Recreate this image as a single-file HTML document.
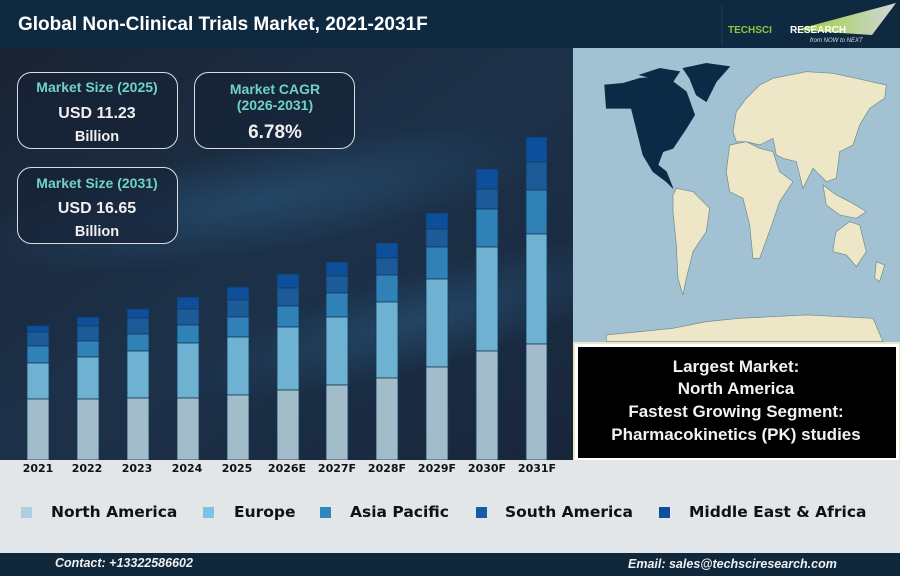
<!DOCTYPE html>
<html><head><meta charset="utf-8"><style>
html,body{margin:0;padding:0;width:900px;height:576px;overflow:hidden;background:#1a2536}
svg{display:block}
</style></head><body>
<svg width="900" height="576" viewBox="0 0 900 576" xmlns="http://www.w3.org/2000/svg">
<defs>
<linearGradient id="bg" x1="0" y1="0" x2="1" y2="1">
<stop offset="0" stop-color="#1a2334"/><stop offset="0.5" stop-color="#1c3149"/><stop offset="1" stop-color="#18263a"/>
</linearGradient>
<radialGradient id="sw1" cx="0.5" cy="0.5" r="0.5">
<stop offset="0" stop-color="#2a5a80" stop-opacity="0.55"/><stop offset="1" stop-color="#2a5a80" stop-opacity="0"/>
</radialGradient>
<linearGradient id="tri" x1="0" y1="0" x2="1" y2="0">
<stop offset="0" stop-color="#9acd32"/><stop offset="1" stop-color="#d0d8d8"/>
</linearGradient>
</defs>
<rect x="0" y="48" width="573" height="412" fill="url(#bg)"/>
<ellipse cx="260" cy="200" rx="300" ry="55" fill="url(#sw1)" transform="rotate(-10 260 200)"/>
<ellipse cx="420" cy="320" rx="250" ry="50" fill="url(#sw1)" transform="rotate(-15 420 320)"/>
<!-- header -->
<rect x="0" y="0" width="900" height="48" fill="#0f2a40"/>
<text x="18" y="30" font-family="Liberation Sans, sans-serif" font-weight="bold" font-size="19" fill="#fff">Global Non-Clinical Trials Market, 2021-2031F</text>
<line x1="722" y1="5" x2="722" y2="45" stroke="#1f3a52" stroke-width="1"/>
<polygon points="795,30 896,3 872,35" fill="url(#tri)"/>
<text x="728" y="33" font-family="Liberation Sans, sans-serif" font-weight="bold" font-size="10" fill="#8cc63f">TECHSCI</text>
<text x="790" y="33" font-family="Liberation Sans, sans-serif" font-weight="bold" font-size="10" fill="#fff">RESEARCH</text>
<text x="810" y="42" font-family="Liberation Sans, sans-serif" font-style="italic" font-size="6" fill="#ddd">from NOW to NEXT</text>

<!-- KPI boxes -->
<g font-family="Liberation Sans, sans-serif" font-weight="bold" text-anchor="middle">
<rect x="17.5" y="72.5" width="160" height="76" rx="14" fill="#162235" fill-opacity="0.6" stroke="#d8dde2" stroke-width="1"/>
<text x="97" y="92" font-size="14" fill="#6fd3c4">Market Size (2025)</text>
<text x="97" y="118" font-size="16" fill="#f0f0f0">USD 11.23</text>
<text x="97" y="141" font-size="14.5" fill="#f0f0f0">Billion</text>
<rect x="194.5" y="72.5" width="160" height="76" rx="14" fill="#162235" fill-opacity="0.6" stroke="#d8dde2" stroke-width="1"/>
<text x="275" y="94" font-size="14" fill="#6fd3c4">Market CAGR</text>
<text x="275" y="110" font-size="14" fill="#6fd3c4">(2026-2031)</text>
<text x="275" y="138" font-size="19" fill="#f0f0f0">6.78%</text>
<rect x="17.5" y="167.5" width="160" height="76" rx="14" fill="#162235" fill-opacity="0.6" stroke="#d8dde2" stroke-width="1"/>
<text x="97" y="188" font-size="14" fill="#6fd3c4">Market Size (2031)</text>
<text x="97" y="213" font-size="16" fill="#f0f0f0">USD 16.65</text>
<text x="97" y="236" font-size="14.5" fill="#f0f0f0">Billion</text>
</g>

<!-- bars -->
<g stroke="#123a5c" stroke-width="0.8">
<g><rect x="27" y="325.7" width="22" height="6.3" fill="#0e4f9c"/><rect x="27" y="332" width="22" height="14" fill="#1c5a98"/><rect x="27" y="346" width="22" height="17" fill="#2f81b6"/><rect x="27" y="363" width="22" height="36" fill="#6fb1d1"/><rect x="27" y="399" width="22" height="61" fill="#a3bcc9"/></g>
<g><rect x="77" y="317" width="22" height="9" fill="#0e4f9c"/><rect x="77" y="326" width="22" height="15" fill="#1c5a98"/><rect x="77" y="341" width="22" height="16" fill="#2f81b6"/><rect x="77" y="357" width="22" height="42" fill="#6fb1d1"/><rect x="77" y="399" width="22" height="61" fill="#a3bcc9"/></g>
<g><rect x="127" y="309" width="22" height="9" fill="#0e4f9c"/><rect x="127" y="318" width="22" height="16" fill="#1c5a98"/><rect x="127" y="334" width="22" height="17" fill="#2f81b6"/><rect x="127" y="351" width="22" height="47" fill="#6fb1d1"/><rect x="127" y="398" width="22" height="62" fill="#a3bcc9"/></g>
<g><rect x="177" y="297" width="22" height="12" fill="#0e4f9c"/><rect x="177" y="309" width="22" height="16" fill="#1c5a98"/><rect x="177" y="325" width="22" height="18" fill="#2f81b6"/><rect x="177" y="343" width="22" height="55" fill="#6fb1d1"/><rect x="177" y="398" width="22" height="62" fill="#a3bcc9"/></g>
<g><rect x="227" y="287" width="22" height="13" fill="#0e4f9c"/><rect x="227" y="300" width="22" height="17" fill="#1c5a98"/><rect x="227" y="317" width="22" height="20" fill="#2f81b6"/><rect x="227" y="337" width="22" height="58" fill="#6fb1d1"/><rect x="227" y="395" width="22" height="65" fill="#a3bcc9"/></g>
<g><rect x="277" y="274" width="22" height="14" fill="#0e4f9c"/><rect x="277" y="288" width="22" height="18" fill="#1c5a98"/><rect x="277" y="306" width="22" height="21" fill="#2f81b6"/><rect x="277" y="327" width="22" height="63" fill="#6fb1d1"/><rect x="277" y="390" width="22" height="70" fill="#a3bcc9"/></g>
<g><rect x="326" y="262" width="22" height="14" fill="#0e4f9c"/><rect x="326" y="276" width="22" height="17" fill="#1c5a98"/><rect x="326" y="293" width="22" height="24" fill="#2f81b6"/><rect x="326" y="317" width="22" height="68" fill="#6fb1d1"/><rect x="326" y="385" width="22" height="75" fill="#a3bcc9"/></g>
<g><rect x="376" y="243" width="22" height="15" fill="#0e4f9c"/><rect x="376" y="258" width="22" height="17" fill="#1c5a98"/><rect x="376" y="275" width="22" height="27" fill="#2f81b6"/><rect x="376" y="302" width="22" height="76" fill="#6fb1d1"/><rect x="376" y="378" width="22" height="82" fill="#a3bcc9"/></g>
<g><rect x="426" y="213" width="22" height="16" fill="#0e4f9c"/><rect x="426" y="229" width="22" height="18" fill="#1c5a98"/><rect x="426" y="247" width="22" height="32" fill="#2f81b6"/><rect x="426" y="279" width="22" height="88" fill="#6fb1d1"/><rect x="426" y="367" width="22" height="93" fill="#a3bcc9"/></g>
<g><rect x="476" y="169" width="22" height="20" fill="#0e4f9c"/><rect x="476" y="189" width="22" height="20" fill="#1c5a98"/><rect x="476" y="209" width="22" height="38" fill="#2f81b6"/><rect x="476" y="247" width="22" height="104" fill="#6fb1d1"/><rect x="476" y="351" width="22" height="109" fill="#a3bcc9"/></g>
<g><rect x="526" y="137" width="21" height="25" fill="#0e4f9c"/><rect x="526" y="162" width="21" height="28" fill="#1c5a98"/><rect x="526" y="190" width="21" height="44" fill="#2f81b6"/><rect x="526" y="234" width="21" height="110" fill="#6fb1d1"/><rect x="526" y="344" width="21" height="116" fill="#a3bcc9"/></g>
</g>

<!-- map -->
<rect x="573" y="48" width="327" height="296" fill="#a2c1d3"/>
<g transform="translate(573,45) scale(0.3333)" stroke="#6a8a8a" stroke-width="2">
<path d="M95,120 L150,115 L200,100 L260,95 L300,110 L340,140 L365,210 L340,250 L320,280 L300,310 L270,320 L255,360 L280,380 L300,430 L280,410 L240,380 L210,330 L195,270 L175,190 L100,190 Z" fill="#0c2a45" stroke="#0c2a45"/>
<path d="M330,70 L400,55 L470,65 L430,110 L400,170 L370,150 L350,100 Z" fill="#0c2a45" stroke="#0c2a45"/>
<path d="M200,90 L260,70 L320,80 L300,110 L240,100 Z" fill="#0c2a45" stroke="#0c2a45"/>
<path d="M310,430 L360,440 L410,490 L400,560 L360,620 L340,700 L330,750 L315,700 L310,600 L300,500 L300,450 Z" fill="#ede7c8"/>
<path d="M470,300 L520,290 L560,310 L600,320 L620,380 L660,410 L620,470 L600,530 L560,640 L540,640 L530,540 L510,460 L470,440 L460,380 Z" fill="#ede7c8"/>
<path d="M480,260 L490,200 L520,160 L560,120 L600,100 L700,80 L780,85 L850,100 L940,120 L935,160 L890,190 L860,240 L840,300 L800,320 L790,400 L760,410 L720,370 L690,430 L670,350 L630,340 L610,330 L600,280 L560,300 L520,290 L490,290 Z" fill="#ede7c8"/>
<path d="M750,420 L790,450 L830,470 L880,500 L850,520 L800,510 L760,480 Z" fill="#ede7c8"/>
<path d="M790,560 L830,530 L860,540 L880,620 L850,665 L820,630 L780,620 L785,580 Z" fill="#ede7c8"/>
<path d="M910,650 L935,660 L920,710 L905,700 Z" fill="#ede7c8"/>
<path d="M100,870 L300,850 L400,830 L500,820 L700,810 L900,820 L930,890 L100,890 Z" fill="#ede7c8"/>
</g>

<!-- info box -->
<rect x="573" y="342" width="327" height="120" fill="#ede7c8"/>
<rect x="576.5" y="345.5" width="321" height="114" fill="#000" stroke="#fff" stroke-width="3"/>
<g font-family="Liberation Sans, sans-serif" font-weight="bold" font-size="17" fill="#f2f2f2" text-anchor="middle">
<text x="736" y="372">Largest Market:</text>
<text x="736" y="394">North America</text>
<text x="736" y="417">Fastest Growing Segment:</text>
<text x="736" y="440">Pharmacokinetics (PK) studies</text>
</g>

<!-- legend area -->
<rect x="0" y="460" width="900" height="93" fill="#e2e6e8"/>
<g font-family="DejaVu Sans, sans-serif" font-weight="bold" font-size="11" fill="#111" text-anchor="middle">
<text x="38" y="472">2021</text><text x="87" y="472">2022</text><text x="137" y="472">2023</text><text x="187" y="472">2024</text><text x="237" y="472">2025</text><text x="287" y="472">2026E</text><text x="337" y="472">2027F</text><text x="387" y="472">2028F</text><text x="437" y="472">2029F</text><text x="487" y="472">2030F</text><text x="537" y="472">2031F</text>
</g>
<g font-family="DejaVu Sans, sans-serif" font-weight="bold" font-size="15.5" fill="#111">
<rect x="21" y="507" width="11" height="11" fill="#add0e0"/><text x="51" y="517">North America</text>
<rect x="203" y="507" width="11" height="11" fill="#7dc4e2"/><text x="234" y="517">Europe</text>
<rect x="320" y="507" width="11" height="11" fill="#2e87bd"/><text x="350" y="517">Asia Pacific</text>
<rect x="476" y="507" width="11" height="11" fill="#165ca6"/><text x="505" y="517">South America</text>
<rect x="659" y="507" width="11" height="11" fill="#0d4f9e"/><text x="689" y="517">Middle East &amp; Africa</text>
</g>

<!-- footer -->
<rect x="0" y="553" width="900" height="23" fill="#0f283c"/>
<g font-family="Liberation Sans, sans-serif" font-weight="bold" font-style="italic" font-size="12.5" fill="#f0f0f0">
<text x="55" y="567">Contact: +13322586602</text>
<text x="628" y="568">Email: sales@techsciresearch.com</text>
</g>
</svg>
</body></html>
